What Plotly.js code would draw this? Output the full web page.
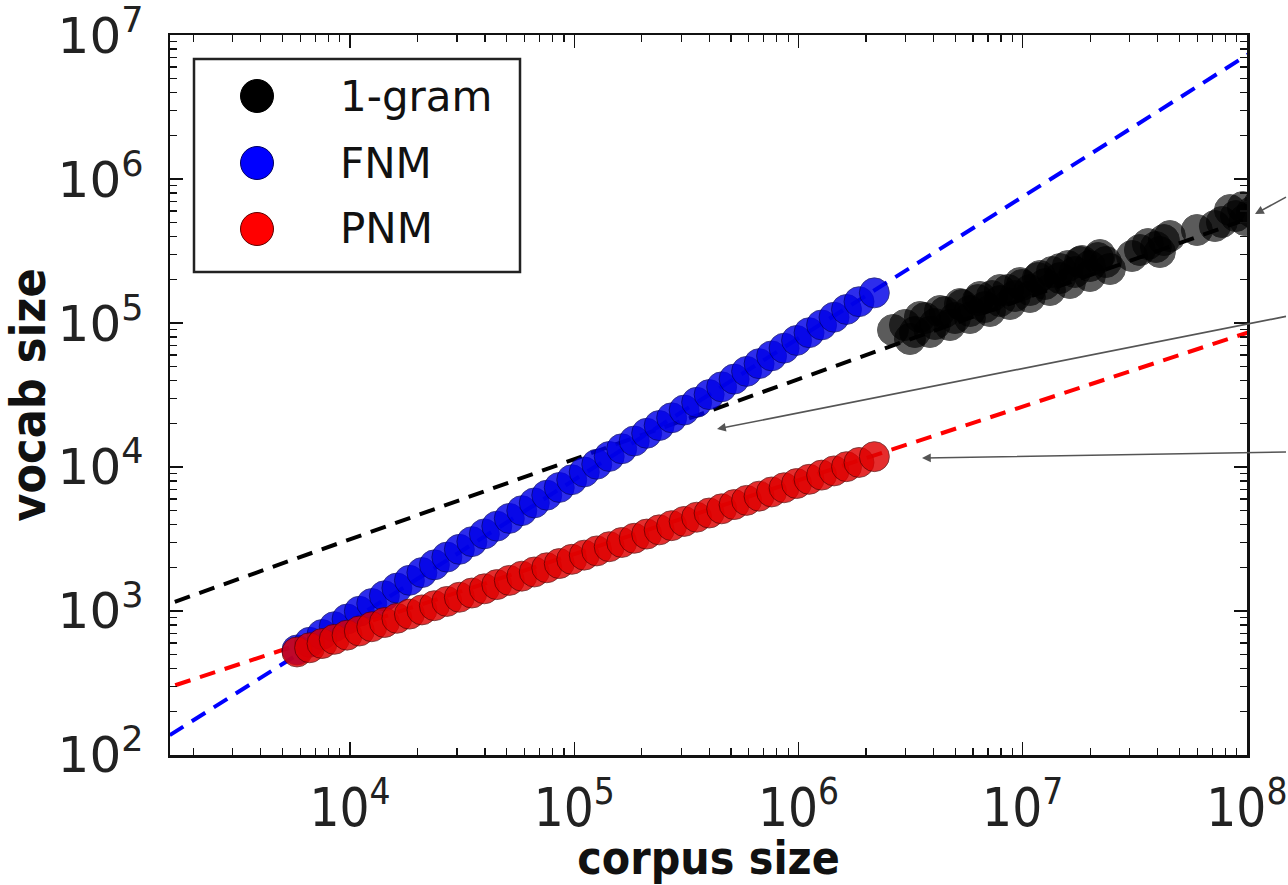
<!DOCTYPE html>
<html>
<head>
<meta charset="utf-8">
<script src="https://cdn.plot.ly/plotly-3.0.1.min.js"></script>
<style>html,body{margin:0;padding:0;background:#fff;}#chart{width:1288px;height:885px;}</style>
</head>
<body>
<div id="chart"></div>
<script>
// ---- data ----
const seriesNames = ["1-gram", "FNM", "PNM"];

const unigramX = [2640000, 2985000, 3307000, 3665000, 4062000, 4501000, 4988000, 5358000, 5818000, 6316000,
  6786000, 7294000, 7917000, 8597000, 9235000, 9924000, 10770000, 11690000, 12570000, 13500000,
  14660000, 15910000, 17100000, 18380000, 19950000, 21660000, 23510000, 33330000, 36180000, 39290000,
  42650000, 59840000, 77350000, 89310000, 95940000, 105300000, 114300000,
  3142000, 3481000, 3858000, 4276000, 4738000, 5250000, 5818000, 6448000, 7145000, 7918000,
  8775000, 9724000, 10770000, 11940000, 13230000, 14660000, 16240000, 18000000, 19950000, 22110000,
  24500000, 30710000, 40930000, 45360000, 71980000, 84020000, 97970000];
const unigramY = [89400, 96900, 86600, 108300, 98400, 119200, 108300, 133400, 121200, 144400,
  129200, 154000, 142200, 169500, 154000, 183600, 169500, 205400, 186600, 226100,
  205400, 248800, 226100, 269600, 248800, 282800, 265200, 321300, 353700, 337200,
  377000, 442500, 502800, 553400, 639000, 590000, 681000,
  77400, 110100, 86600, 121200, 96800, 135500, 108300, 151600, 121200, 169500,
  135500, 189600, 151600, 212100, 169500, 237100, 189600, 265200, 212100, 296700,
  237100, 292000, 311200, 401900, 471600, 608900, 519200];

const nmX = [5800, 6600, 7500, 8500, 9700, 11000, 12500, 14230, 16180, 18400,
  20920, 23780, 27030, 30730, 34940, 39720, 45150, 51330, 58360, 66340,
  75420, 85740, 97470, 110800, 126000, 143200, 162800, 185100, 210400, 239200,
  271900, 309200, 351500, 399600, 454300, 516400, 587100, 667500, 758800, 862700,
  980700, 1115000, 1268000, 1441000, 1638000, 1862000, 2180000];
const fnmY = [536, 606, 686, 777, 879, 995, 1126, 1274, 1442, 1632,
  1847, 2091, 2366, 2678, 3030, 3430, 3882, 4393, 4972, 5627,
  6368, 7207, 8155, 9233, 10450, 11830, 13380, 15150, 17140, 19400,
  21960, 24850, 28120, 31830, 36020, 40770, 46130, 52220, 59090, 66890,
  75680, 85660, 96940, 109700, 124200, 140600, 162000];
const pnmY = [519, 555, 594, 635, 679, 726, 777, 831, 889, 951,
  1017, 1088, 1164, 1245, 1332, 1425, 1524, 1630, 1744, 1865,
  1995, 2134, 2283, 2442, 2612, 2794, 2989, 3197, 3420, 3658,
  3913, 4185, 4477, 4789, 5123, 5480, 5861, 6270, 6707, 7174,
  7674, 8208, 8780, 9391, 10050, 10750, 11800];

// dashed power-law fit lines (endpoints)
const fitX = [1000, 120000000];
const unigramFitY = [875, 583000];
const fnmFitY = [88, 8670000];
const pnmFitY = [235, 93800];

const xTitle = "corpus size";
const yTitle = "vocab size";
const colors = ["#000000", "#0000ff", "#ff0000"];

// ---- traces ----
const dash = "16px,10px";
const traces = [
  {x: fitX, y: unigramFitY, mode: "lines", line: {color: colors[0], width: 4, dash: dash}, showlegend: false, hoverinfo: "skip"},
  {x: fitX, y: fnmFitY, mode: "lines", line: {color: colors[1], width: 4, dash: dash}, showlegend: false, hoverinfo: "skip"},
  {x: fitX, y: pnmFitY, mode: "lines", line: {color: colors[2], width: 4, dash: dash}, showlegend: false, hoverinfo: "skip"},
  {x: unigramX, y: unigramY, mode: "markers", name: seriesNames[0], showlegend: false,
   marker: {size: 31, color: colors[0], opacity: 0.64, line: {color: "#000", width: 1}}},
  {x: nmX, y: fnmY, mode: "markers", name: seriesNames[1], showlegend: false,
   marker: {size: 30, color: "#0000e8", opacity: 0.82, line: {color: "#00005a", width: 0.8}}},
  {x: nmX, y: pnmY, mode: "markers", name: seriesNames[2], showlegend: false,
   marker: {size: 30, color: "#e00000", opacity: 0.82, line: {color: "#4a0000", width: 0.8}}}
];

// ---- custom legend (shapes + text) ----
const L = 170, R = 1247, T = 35, B = 755;
const W = R - L, H = B - T;
const px = v => (v - L) / W;
const py = v => 1 - (v - T) / H;
const shapes = [
  {type: "rect", xref: "paper", yref: "paper", x0: px(194), x1: px(520), y0: py(272), y1: py(59),
   line: {color: "#222", width: 2.5}, fillcolor: "#fff", layer: "above"}
];
const annotations = [];
const rowsY = [96, 163, 229];
seriesNames.forEach((n, i) => {
  const r = 16.5;
  shapes.push({type: "circle", xref: "paper", yref: "paper",
    x0: px(257 - r), x1: px(257 + r), y0: py(rowsY[i] + r), y1: py(rowsY[i] - r),
    fillcolor: colors[i], line: {color: i === 0 ? "#000" : (i === 1 ? "#000060" : "#600000"), width: 1}, layer: "above"});
  annotations.push({xref: "paper", yref: "paper", x: px(338), y: py(rowsY[i]), text: n,
    showarrow: false, xanchor: "left", yanchor: "middle",
    font: {family: "DejaVu Sans", size: 42, color: "#111"}});
});

// arrows coming in from the (cropped) right-hand side
const arrowHeads = [[1255, 214, 65, -18], [717, 429, 603, -113], [922, 458, 398, -6]];
arrowHeads.forEach(a => {
  annotations.push({xref: "paper", yref: "paper", x: px(a[0]), y: py(a[1]), ax: a[2], ay: a[3],
    text: " ", showarrow: true, arrowhead: 2, arrowsize: 1.1, arrowwidth: 1.6, arrowcolor: "#555",
    font: {size: 2}});
});

const axisCommon = {
  type: "log", showgrid: false, zeroline: false, showline: true, linecolor: "#111", linewidth: 2.5,
  mirror: "ticks", ticks: "inside", ticklen: 13, tickwidth: 1.5, tickcolor: "#111",
  dtick: 1, exponentformat: "power", ticklabeloverflow: "allow",
  minor: {ticks: "inside", ticklen: 7, tickwidth: 1.2, tickcolor: "#111", dtick: "D1", showgrid: false}
};

const layout = {
  width: 1288, height: 885,
  margin: {l: L, r: 1288 - R, t: T, b: 885 - B},
  paper_bgcolor: "#fff", plot_bgcolor: "#fff",
  showlegend: false,
  xaxis: Object.assign({}, axisCommon, {
    range: [3.197, 8.0005],
    tickfont: {family: "DejaVu Sans Condensed, DejaVu Sans", size: 42, color: "#222"},
    ticklabelstandoff: 8,
    title: {text: xTitle, standoff: 28, font: {family: "DejaVu Sans Condensed, DejaVu Sans", size: 46, color: "#111", weight: "bold"}}
  }),
  yaxis: Object.assign({}, axisCommon, {
    range: [1.9995, 7.0005],
    tickfont: {family: "DejaVu Sans", size: 40, color: "#222"},
    ticklabelstandoff: 16,
    title: {text: yTitle, standoff: 14, font: {family: "DejaVu Sans Condensed, DejaVu Sans", size: 48, color: "#111", weight: "bold"}}
  }),
  shapes: shapes,
  annotations: annotations,
  hovermode: false
};

Plotly.newPlot("chart", traces, layout, {staticPlot: true, displayModeBar: false});
</script>
</body>
</html>
